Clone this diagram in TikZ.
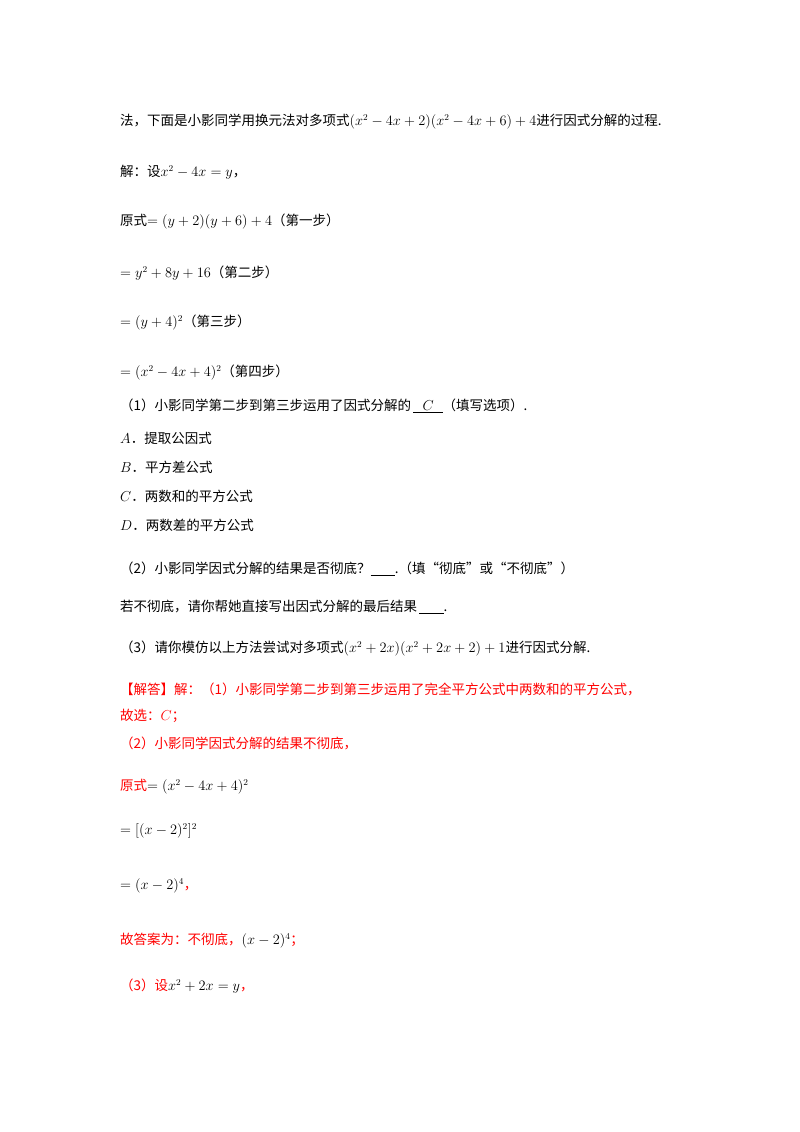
\documentclass[tikz,border=0pt]{standalone}
\usepackage{fontspec}
\newfontfamily\cjk{Noto Sans CJK SC}
\begin{document}
\begin{tikzpicture}[x=1pt,y=-1pt,
 ln/.style={anchor=west,inner sep=0,font=\cjk\fontsize{13.5}{15}\selectfont},
 rd/.style={ln,text=red}]
\useasboundingbox (0,0) rectangle (800,1132);
\node[ln] (l1) at (120,122) {法，下面是小影同学用换元法对多项式$(x^2-4x+2)(x^2-4x+6)+4$进行因式分解的过程.};
\node[ln] (l2) at (120,172) {解：设$x^2-4x=y$，};
\node[ln] (l3) at (120,222) {原式$=(y+2)(y+6)+4$（第一步）};
\node[ln] (l4) at (120,273) {$=y^2+8y+16$（第二步）};
\node[ln] (l5) at (120,323) {$=(y+4)^2$（第三步）};
\node[ln] (l6) at (120,373) {$=(x^2-4x+4)^2$（第四步）};
\node[ln] (l7) at (120,406) {（1）小影同学第二步到第三步运用了因式分解的\,\underline{\ \ \ $C$\ \ \ }（填写选项）.};
\node[ln] (l8) at (120,438) {$A$．提取公因式};
\node[ln] (l9) at (120,467) {$B$．平方差公式};
\node[ln] (l10) at (120,496) {$C$．两数和的平方公式};
\node[ln] (l11) at (120,525) {$D$．两数差的平方公式};
\node[ln] (l12) at (120,569) {（2）小影同学因式分解的结果是否彻底？\underline{\ \ \ \ \ \ \ \ }.（填“彻底”或“不彻底”）};
\node[ln] (l13) at (120,607) {若不彻底，请你帮她直接写出因式分解的最后结果\,\underline{\ \ \ \ \ \ \ \ }.};
\node[ln] (l14) at (120,649) {（3）请你模仿以上方法尝试对多项式$(x^2+2x)(x^2+2x+2)+1$进行因式分解.};
\node[rd] (r1) at (120,689) {【解答】解：（1）小影同学第二步到第三步运用了完全平方公式中两数和的平方公式，};
\node[rd] (r2) at (120,716) {故选：$C$；};
\node[rd] (r3) at (120,743) {（2）小影同学因式分解的结果不彻底，};
\node[rd] (r4) at (120,787) {原式{\color{black}$=(x^2-4x+4)^2$}};
\node[rd] (r5) at (120,831) {{\color{black}$=[(x-2)^2]^2$}};
\node[rd] (r6) at (120,886) {{\color{black}$=(x-2)^4$}，};
\node[rd] (r7) at (120,941) {故答案为：不彻底，{\color{black}$(x-2)^4$}；};
\node[rd] (r8) at (120,986) {（3）设{\color{black}$x^2+2x=y$}，};
\end{tikzpicture}
\end{document}
